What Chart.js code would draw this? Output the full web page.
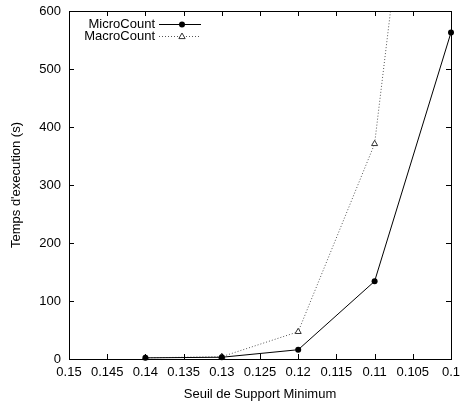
<!DOCTYPE html>
<html>
<head>
<meta charset="utf-8">
<script src="https://cdn.jsdelivr.net/npm/chart.js@4.4.1/dist/chart.umd.min.js"></script>
<style>
  html, body { margin: 0; padding: 0; background: #fff; }
  #wrap { width: 460px; height: 402px; }
</style>
</head>
<body>
<div id="wrap"><canvas id="chart" width="460" height="402"></canvas></div>
<script>
// support thresholds (x) and execution times in seconds (y)
const seuils = [0.14, 0.13, 0.12, 0.11, 0.1];
const microCount = [2, 3, 16, 134, 563];
const macroCount = [2, 4, 47, 371, 1470];
const xTicks = [0.15, 0.145, 0.14, 0.135, 0.13, 0.125, 0.12, 0.115, 0.11, 0.105, 0.1];
const yTicks = [0, 100, 200, 300, 400, 500, 600];

const FONT = 'Liberation Sans, Arial, Helvetica, sans-serif';

const toPoints = (vals) => seuils.map((s, i) => ({ x: s, y: vals[i] }));

// gnuplot style frame with inward ticks on all four sides
const framePlugin = {
  id: 'frame',
  afterDatasetsDraw(chart) {
    const { ctx, chartArea: a, scales } = chart;
    const len = 5;
    ctx.save();
    ctx.strokeStyle = '#000';
    ctx.lineWidth = 1;
    ctx.beginPath();
    xTicks.forEach((t) => {
      const px = Math.round(scales.x.getPixelForValue(t)) + 0.5;
      ctx.moveTo(px, a.bottom); ctx.lineTo(px, a.bottom - len);
      ctx.moveTo(px, a.top); ctx.lineTo(px, a.top + len);
    });
    yTicks.forEach((t) => {
      const py = Math.round(scales.y.getPixelForValue(t)) + 0.5;
      ctx.moveTo(a.left, py); ctx.lineTo(a.left + len, py);
      ctx.moveTo(a.right, py); ctx.lineTo(a.right - len, py);
    });
    ctx.stroke();
    ctx.strokeRect(Math.round(a.left) + 0.5, Math.round(a.top) + 0.5,
      Math.round(a.right - a.left), Math.round(a.bottom - a.top));
    ctx.restore();
  }
};

// key in the top left corner: text, then line sample with marker
const keyPlugin = {
  id: 'key',
  afterDraw(chart) {
    const { ctx, chartArea: a } = chart;
    ctx.save();
    ctx.font = '13px ' + FONT;
    ctx.textAlign = 'right';
    ctx.textBaseline = 'middle';
    chart.data.datasets.forEach((ds, i) => {
      const y = a.top + 13 + i * 12;
      const xr = a.left + 86;
      ctx.fillStyle = '#000';
      ctx.fillText(ds.label, xr, y + 0.5);
      ctx.strokeStyle = ds.borderColor;
      ctx.lineWidth = 1;
      ctx.setLineDash(ds.borderDash || []);
      ctx.beginPath();
      ctx.moveTo(xr + 4, Math.round(y) + 0.5);
      ctx.lineTo(xr + 46, Math.round(y) + 0.5);
      ctx.stroke();
      ctx.setLineDash([]);
      const mx = xr + 27, my = Math.round(y) + 0.5;
      ctx.beginPath();
      if (ds.pointStyle === 'triangle') {
        const r = ds.pointRadius;
        ctx.moveTo(mx, my - r);
        ctx.lineTo(mx + r * 0.9, my + r * 0.6);
        ctx.lineTo(mx - r * 0.9, my + r * 0.6);
        ctx.closePath();
        ctx.fillStyle = '#fff';
        ctx.fill();
        ctx.strokeStyle = ds.pointBorderColor;
        ctx.stroke();
      } else {
        ctx.arc(mx, my, ds.pointRadius, 0, Math.PI * 2);
        ctx.fillStyle = ds.pointBackgroundColor;
        ctx.fill();
      }
    });
    ctx.restore();
  }
};

new Chart(document.getElementById('chart'), {
  type: 'line',
  data: {
    datasets: [
      {
        label: 'MicroCount',
        data: toPoints(microCount),
        borderColor: '#000',
        borderWidth: 1,
        pointStyle: 'circle',
        pointRadius: 3,
        pointBackgroundColor: '#000',
        pointBorderColor: '#000',
        pointBorderWidth: 0,
        clip: { left: 6, right: 6, top: 0, bottom: 6 },
      },
      {
        label: 'MacroCount',
        data: toPoints(macroCount),
        borderColor: '#555',
        borderWidth: 1,
        borderDash: [1, 2],
        pointStyle: 'triangle',
        pointRadius: 3.5,
        pointBackgroundColor: '#fff',
        pointBorderColor: '#333',
        pointBorderWidth: 1,
        clip: { left: 6, right: 6, top: 0, bottom: 6 },
      },
    ],
  },
  options: {
    responsive: false,
    animation: false,
    devicePixelRatio: 1,
    layout: { padding: { top: 11, right: 9, left: 0, bottom: 0 } },
    plugins: { legend: { display: false }, tooltip: { enabled: false } },
    scales: {
      x: {
        type: 'linear',
        reverse: true,
        min: 0.1,
        max: 0.15,
        afterBuildTicks: (scale) => { scale.ticks = xTicks.map((v) => ({ value: v })); },
        afterFit: (scale) => { scale.height = 43; scale.paddingLeft = 0; scale.paddingRight = 0; },
        grid: { display: false, drawTicks: false },
        border: { display: false },
        ticks: {
          padding: 6,
          color: '#000',
          font: { family: FONT, size: 13 },
          maxRotation: 0,
          autoSkip: false,
          callback: (v) => String(parseFloat(v.toFixed(3))),
        },
        title: {
          display: true,
          text: 'Seuil de Support Minimum',
          color: '#000',
          font: { family: FONT, size: 13 },
          padding: { top: 1, bottom: 0 },
        },
      },
      y: {
        type: 'linear',
        min: 0,
        max: 600,
        afterBuildTicks: (scale) => { scale.ticks = yTicks.map((v) => ({ value: v })); },
        afterFit: (scale) => { scale.width = 69; scale.paddingTop = 0; scale.paddingBottom = 0; },
        grid: { display: false, drawTicks: false },
        border: { display: false },
        ticks: {
          padding: 8,
          color: '#000',
          font: { family: FONT, size: 13 },
        },
        title: {
          display: true,
          text: "Temps d'execution (s)",
          color: '#000',
          font: { family: FONT, size: 13 },
          padding: { top: 9, bottom: 0 },
        },
      },
    },
  },
  plugins: [framePlugin, keyPlugin],
});
</script>
</body>
</html>
